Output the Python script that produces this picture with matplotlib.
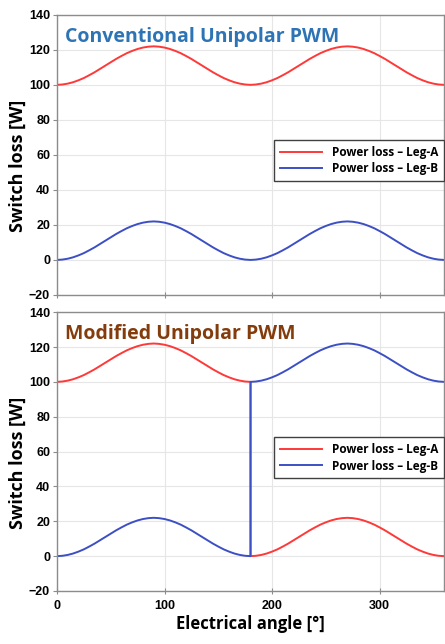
import numpy as np
import matplotlib.pyplot as plt

plt.rcParams['font.family'] = ['Liberation Sans', 'DejaVu Sans']

# electrical angle in degrees, 5 deg steps over one half cycle
angle_half = list(range(0, 181, 5))
# loss on the conducting (high) leg and the idle (low) leg over one half cycle
low_half = [0.0, 0.2, 0.7, 1.5, 2.6, 3.9, 5.5, 7.2, 9.1, 11.0, 12.9, 14.8, 16.5,
            18.1, 19.4, 20.5, 21.3, 21.8, 22.0, 21.8, 21.3, 20.5, 19.4, 18.1,
            16.5, 14.8, 12.9, 11.0, 9.1, 7.2, 5.5, 3.9, 2.6, 1.5, 0.7, 0.2, 0.0]
high_half = [100.0, 100.2, 100.7, 101.5, 102.6, 103.9, 105.5, 107.2, 109.1,
             111.0, 112.9, 114.8, 116.5, 118.1, 119.4, 120.5, 121.3, 121.8,
             122.0, 121.8, 121.3, 120.5, 119.4, 118.1, 116.5, 114.8, 112.9,
             111.0, 109.1, 107.2, 105.5, 103.9, 102.6, 101.5, 100.7, 100.2, 100.0]

angle2 = [a + 180 for a in angle_half]

# conventional: legs never swap
conv_x = angle_half + angle2
conv_a = high_half + high_half
conv_b = low_half + low_half

# modified: legs swap role at 180 deg
mod_x = angle_half + angle2
mod_a = high_half + low_half
mod_b = low_half + high_half

titles = ['Conventional Unipolar PWM', 'Modified Unipolar PWM']
title_colors = ['#2e74b5', '#843c0c']
red = '#ff3838'
blue = '#3c4fc4'
ui_font = ['Open Sans', 'DejaVu Sans']

fig = plt.figure(figsize=(4.45, 6.44), dpi=100)
ax1 = fig.add_axes([0.128, 0.542, 0.870, 0.435])
ax2 = fig.add_axes([0.128, 0.0823, 0.870, 0.433])

data = [(conv_x, conv_a, conv_b), (mod_x, mod_a, mod_b)]
legend_y = [0.554, 0.552]

for i, ax in enumerate([ax1, ax2]):
    x, a, b = data[i]
    ax.plot(x, a, color=red, lw=1.4, label='Power loss – Leg-A')
    ax.plot(x, b, color=blue, lw=1.4, label='Power loss – Leg-B')
    ax.set_xlim(0, 360)
    ax.set_ylim(-20, 140)
    ax.set_xticks([0, 100, 200, 300])
    ax.set_yticks(range(-20, 141, 20))
    ax.grid(True, color='#e6e6e6', lw=0.8)
    ax.set_axisbelow(True)
    for s in ax.spines.values():
        s.set_color('#8c8c8c')
        s.set_linewidth(1.0)
    ax.tick_params(axis='y', direction='out', length=3, color='#8c8c8c',
                   labelsize=9, pad=2)
    ax.tick_params(axis='x', direction='inout', length=5, color='#8c8c8c',
                   labelsize=9, pad=4)
    for lab in ax.get_xticklabels() + ax.get_yticklabels():
        lab.set_fontweight('bold')
    ax.set_ylabel('Switch loss [W]', fontsize=13, fontweight='bold',
                  family=ui_font)
    ax.yaxis.set_label_coords(-0.078, 0.46)
    ax.text(0.022, 0.958, titles[i], transform=ax.transAxes, ha='left', va='top',
            fontsize=14, fontweight='bold', color=title_colors[i], family=ui_font)
    leg = ax.legend(loc='upper right', bbox_to_anchor=(1.0, legend_y[i]),
                    borderaxespad=0, fancybox=False, framealpha=1,
                    edgecolor='#404040', handlelength=3.6, borderpad=0.5,
                    labelspacing=0.3,
                    prop={'family': ui_font, 'weight': 'bold', 'size': 8.5})
    leg.get_frame().set_linewidth(1.0)

ax1.tick_params(axis='x', labelbottom=False)
ax2.set_xlabel('Electrical angle [°]', fontsize=12, fontweight='bold',
               family=ui_font, labelpad=2)

fig.savefig('out.png', dpi=100)
